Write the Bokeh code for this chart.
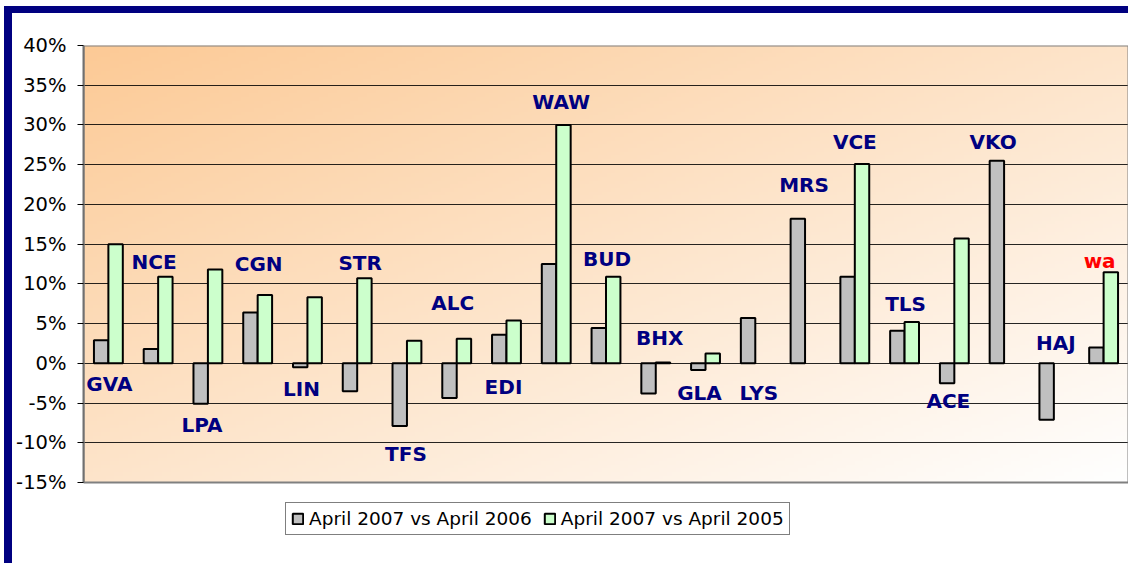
import numpy as np
from bokeh.plotting import figure
from bokeh.models import Range1d, FixedTicker, PrintfTickFormatter, Legend, LegendItem, ColumnDataSource
from bokeh.core.properties import value
from bokeh.embed import file_html
from bokeh.resources import INLINE

nan = float("nan")

# ---- data ----
airports = ["GVA", "NCE", "LPA", "CGN", "LIN", "STR", "TFS", "ALC", "EDI", "WAW", "BUD",
            "BHX", "GLA", "LYS", "MRS", "VCE", "TLS", "ACE", "VKO", "HAJ", "wa"]
vs_2006 = [2.9, 1.8, -5.1, 6.4, -0.5, -3.5, -7.9, -4.35, 3.6, 12.5, 4.45,
           -3.8, -0.85, 5.7, 18.2, 10.9, 4.1, -2.5, 25.5, -7.1, 2.0]
vs_2005 = [15.0, 10.9, 11.8, 8.6, 8.3, 10.7, 2.85, 3.1, 5.4, 30.0, 10.9,
           0.1, 1.25, nan, nan, 25.1, 5.2, 15.7, nan, nan, 11.45]
series_names = ["April 2007 vs April 2006", "April 2007 vs April 2005"]
y_ticks = [-15, -10, -5, 0, 5, 10, 15, 20, 25, 30, 35, 40]

# label placement (baseline in % units, horizontal nudge in px)
label_y = [-3.65, 11.8, -8.8, 11.45, -4.3, 11.65, -12.45, 6.55, -4.05, 31.9, 12.1,
           2.15, -4.7, -4.8, 21.4, 26.8, 6.4, -5.75, 26.8, 1.6, 11.9]
label_dx = [1, -4, -6, 1, -6, 3, -1, -4, -3, 5, 1, 4, -6, 3.5, -1, 0, 1, -6, -11, 2, -4]
label_colors = ["#000080"] * 20 + ["#FF0000"]

# ---- styling / layout ----
GRAY = "#C0C0C0"
GREEN = "#CCFFCC"
NAVY = "#000080"
FONT = "DejaVu Sans"

n = len(airports)
xc = np.arange(n) + 0.5
bw = 0.29
y_lo, y_hi = y_ticks[0], y_ticks[-1]

H_FIG = 557
area_w, area_h = 1045, 437          # plot-area size in px
frame_w, frame_h = 1047, 500        # frame includes room for the legend below the plot area
x_end = n * frame_w / area_w
y_start = y_hi - (y_hi - y_lo) * frame_h / area_h

p = figure(width=1124, height=H_FIG, x_range=Range1d(0, x_end), y_range=Range1d(y_start, y_hi),
           x_axis_location=None, output_backend="svg", toolbar_location=None,
           min_border_left=71, min_border_top=32, min_border_right=1124 - 71 - frame_w,
           min_border_bottom=H_FIG - 32 - frame_h)
p.styles = {"margin-left": "4px", "margin-top": "6px",
            "border-left": "8px solid " + NAVY, "border-top": "7px solid " + NAVY}

# gradient background of plot area
H, W = 120, 240
u = np.linspace(0, 1, W)[None, :]
v = 1 - np.linspace(0, 1, H)[:, None]
t = np.clip((u + v) / 2.0, 0, 1)
c0 = np.array([252, 202, 150])
c1 = np.array([255, 255, 255])
img = np.zeros((H, W), dtype=np.uint32)
view = img.view(dtype=np.uint8).reshape((H, W, 4))
for k in range(3):
    view[:, :, k] = (c0[k] + (c1[k] - c0[k]) * t).astype(np.uint8)
view[:, :, 3] = 255
p.image_rgba(image=[img], x=0, y=y_lo, dw=n, dh=y_hi - y_lo, level="image")

p.background_fill_color = "white"
p.border_fill_color = "white"
p.outline_line_color = None

p.xgrid.visible = False
p.ygrid.grid_line_color = "black"
p.ygrid.grid_line_width = 1
p.ygrid.grid_line_alpha = 0.85
p.ygrid.bounds = (0, n)

p.yaxis.ticker = FixedTicker(ticks=y_ticks)
p.yaxis.bounds = (y_lo, y_hi)
p.yaxis.formatter = PrintfTickFormatter(format="%d%%")
p.yaxis.major_label_text_font = FONT
p.yaxis.major_label_text_font_size = "19.5px"
p.yaxis.major_label_text_color = "black"
p.yaxis.major_label_standoff = 11
p.yaxis.major_tick_out = 6
p.yaxis.major_tick_in = 0
p.yaxis.minor_tick_out = 0
p.yaxis.minor_tick_in = 0
p.yaxis.axis_line_color = "#707070"
p.yaxis.axis_line_width = 2
p.yaxis.major_tick_line_color = "black"

# plot-area border (top, right, bottom)
p.quad(left=0, right=n, bottom=y_lo, top=y_hi, fill_color=None,
       line_color="#808080", line_width=2)

src = ColumnDataSource(dict(x=xc, name=airports, ly=label_y, dx=label_dx, col=label_colors))
r1 = p.vbar(x=xc - bw / 2, top=vs_2006, bottom=0, width=bw, fill_color=GRAY,
            line_color="black", line_width=2)
r2 = p.vbar(x=xc + bw / 2, top=vs_2005, bottom=0, width=bw, fill_color=GREEN,
            line_color="black", line_width=2)

p.text(x="x", y="ly", text="name", source=src, x_offset="dx", y_offset=-8, text_color="col",
       text_font=value(FONT), text_font_style="bold", text_font_size="20px",
       text_align="center", text_baseline="alphabetic")

legend = Legend(items=[LegendItem(label=series_names[0], renderers=[r1]),
                       LegendItem(label=series_names[1], renderers=[r2])],
                orientation="horizontal", location=(202, 10))
legend.label_text_font = FONT
legend.label_text_font_size = "18.5px"
legend.label_text_color = "black"
legend.glyph_width = 13
legend.glyph_height = 13
legend.label_standoff = 5
legend.spacing = 11
legend.padding = 5
legend.margin = 0
legend.border_line_color = "black"
legend.border_line_width = 1
legend.background_fill_color = "white"
legend.background_fill_alpha = 1
p.add_layout(legend, "center")

open("out.html", "w").write(file_html(p, INLINE))
